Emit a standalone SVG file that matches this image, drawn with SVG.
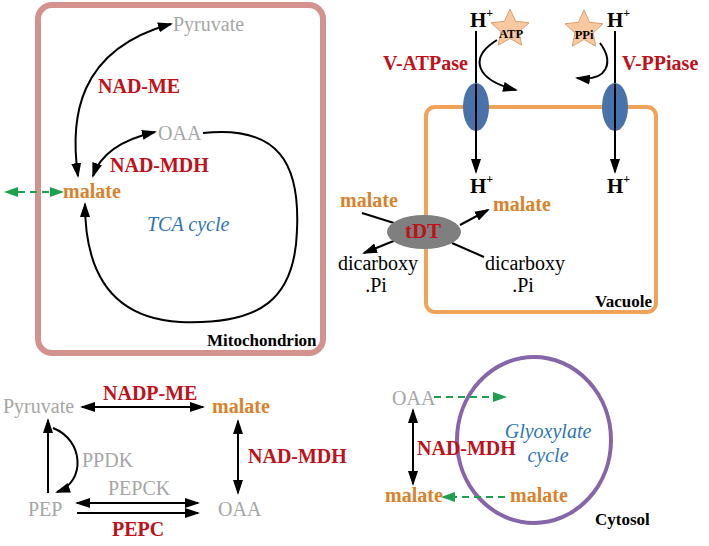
<svg xmlns="http://www.w3.org/2000/svg" width="709" height="546" viewBox="0 0 709 546" font-family="'Liberation Serif', 'Times New Roman', serif">
<defs>
<marker id="ah" markerUnits="userSpaceOnUse" markerWidth="15" markerHeight="12" refX="13" refY="5" orient="auto-start-reverse" viewBox="0 0 15 10"><path d="M0,0 L15,5 L0,10 z" fill="#000"/></marker>
<marker id="ag" markerUnits="userSpaceOnUse" markerWidth="14" markerHeight="12" refX="12" refY="5" orient="auto-start-reverse" viewBox="0 0 14 10"><path d="M0,0 L14,5 L0,10 z" fill="#1ea04e"/></marker>
<path id="star" d="M0,-20 L5.6,-7.7 L19,-6.2 L9,2.9 L11.8,16.2 L0,9.5 L-11.8,16.2 L-9,2.9 L-19,-6.2 L-5.6,-7.7 Z"/>
</defs>
<style>
text{font-size:20px}
.g{fill:#a6a6a6}
.r{fill:#c0101a;font-weight:bold}
.o{fill:#d9822b;font-weight:bold}
.b{fill:#2e75b6;font-style:italic}
.k{fill:#000;font-weight:bold}
.lbl{font-size:17px;font-weight:bold;fill:#000}
.n{fill:#000}
.ar{fill:none;stroke:#000;stroke-width:2}
.gr{fill:none;stroke:#1ea04e;stroke-width:2;stroke-dasharray:7 5}
</style>
<rect width="709" height="546" fill="#fff"/>

<g id="mitochondrion">
<rect x="38" y="5" width="285" height="348" rx="14" fill="none" stroke="#d4928f" stroke-width="6"/>
<text class="lbl" x="207" y="346">Mitochondrion</text>
</g>
<g id="vacuole">
<rect x="426" y="107" width="230" height="205" rx="9" fill="none" stroke="#f0a258" stroke-width="4"/>
<text class="lbl" x="595" y="307">Vacuole</text>
</g>
<g id="glyoxysome">
<ellipse cx="534" cy="440" rx="77" ry="83" fill="none" stroke="#8566a8" stroke-width="4"/>
<text class="b" x="548" y="438" text-anchor="middle">Glyoxylate</text>
<text class="b" x="548" y="462" text-anchor="middle">cycle</text>
</g>

<g id="connectors">
<path class="ar" d="M78,176 C70,120 76,50 171,24" marker-start="url(#ah)" marker-end="url(#ah)"/>
<path class="ar" d="M93,176 C100,155 120,140 155,132" marker-start="url(#ah)" marker-end="url(#ah)"/>
<path class="ar" d="M203,133 C280,125 300,165 297,230 C295,300 260,325 180,322 C110,318 85,270 85,204" marker-end="url(#ah)"/>
<path class="gr" d="M6,192 L62,192" marker-start="url(#ag)" marker-end="url(#ag)"/>
<path class="ar" d="M476,31 L476,172" marker-end="url(#ah)"/>
<path class="ar" d="M615,31 L615,172" marker-end="url(#ah)"/>
<path class="ar" d="M497,40 C468,58 476,80 516,90" marker-end="url(#ah)"/>
<path class="ar" d="M600,43 C614,62 608,82 577,78" marker-end="url(#ah)"/>
<path class="ar" d="M362,213 L394,223"/>
<path class="ar" d="M460,225 L488,210" marker-end="url(#ah)"/>
<path class="ar" d="M396,240 L364,253" marker-end="url(#ah)"/>
<path class="ar" d="M452,243 L484,257"/>
<path class="ar" d="M82,407 L203,407" marker-start="url(#ah)" marker-end="url(#ah)"/>
<path class="ar" d="M238,421 L238,493" marker-start="url(#ah)" marker-end="url(#ah)"/>
<path class="ar" d="M48,493 L48,420" marker-end="url(#ah)"/>
<path class="ar" d="M53,428 C84,440 86,482 57,492" marker-end="url(#ah)"/>
<path class="ar" d="M77,503 L198,503" marker-start="url(#ah)" marker-end="url(#ah)"/>
<path class="ar" d="M77,513 L198,513" marker-end="url(#ah)"/>
<path class="ar" d="M413,410 L413,484" marker-start="url(#ah)" marker-end="url(#ah)"/>
<path class="gr" d="M434,397 L505,397" marker-end="url(#ag)"/>
<path class="gr" d="M505,497 L443,497" marker-end="url(#ag)"/>
</g>

<g id="pumps">
<ellipse cx="476" cy="107" rx="13" ry="24" fill="#4a72aa"/>
<ellipse cx="615" cy="107" rx="13" ry="24" fill="#4a72aa"/>
<line x1="476" y1="84" x2="476" y2="131" stroke="#000" stroke-width="2"/>
<line x1="615" y1="84" x2="615" y2="131" stroke="#000" stroke-width="2"/>
<use href="#star" x="510" y="29" fill="#f8c9a0" stroke="#d9a070" stroke-width="1"/>
<use href="#star" x="584" y="30" fill="#f8c9a0" stroke="#d9a070" stroke-width="1"/>
<text class="k" x="511" y="38" text-anchor="middle" style="font-size:12.5px">ATP</text>
<text class="k" x="584" y="39" text-anchor="middle" style="font-size:12.5px">PPi</text>
<text class="k" x="470" y="27" style="font-size:21px">H<tspan dy="-10" style="font-size:12px">+</tspan></text>
<text class="k" x="607" y="27" style="font-size:21px">H<tspan dy="-10" style="font-size:12px">+</tspan></text>
<text class="k" x="470" y="193" style="font-size:21px">H<tspan dy="-10" style="font-size:12px">+</tspan></text>
<text class="k" x="607" y="193" style="font-size:21px">H<tspan dy="-10" style="font-size:12px">+</tspan></text>
<text class="r" x="383" y="70">V-ATPase</text>
<text class="r" x="622" y="70">V-PPiase</text>
</g>

<g id="tDT">
<ellipse cx="424" cy="232" rx="37" ry="17" fill="#7f7f7f"/>
<text class="r" x="423" y="238" text-anchor="middle" style="font-size:21px">tDT</text>
<text class="o" x="340" y="207">malate</text>
<text class="o" x="493" y="211">malate</text>
<text class="n" x="378" y="270" text-anchor="middle">dicarboxy</text>
<text class="n" x="376" y="292" text-anchor="middle">.Pi</text>
<text class="n" x="525" y="270" text-anchor="middle">dicarboxy</text>
<text class="n" x="523" y="292" text-anchor="middle">.Pi</text>
</g>

<g id="mito-labels">
<text class="g" x="173" y="31">Pyruvate</text>
<text class="r" x="98" y="93">NAD-ME</text>
<text class="g" x="158" y="140">OAA</text>
<text class="r" x="110" y="172">NAD-MDH</text>
<text class="o" x="63" y="198">malate</text>
<text class="b" x="147" y="231">TCA cycle</text>
</g>

<g id="cytosol-left">
<text class="g" x="3" y="413">Pyruvate</text>
<text class="r" x="103" y="400">NADP-ME</text>
<text class="o" x="212" y="413">malate</text>
<text class="r" x="248" y="463">NAD-MDH</text>
<text class="g" x="218" y="516">OAA</text>
<text class="g" x="28" y="516">PEP</text>
<text class="g" x="82" y="467">PPDK</text>
<text class="g" x="108" y="495">PEPCK</text>
<text class="r" x="112" y="536">PEPC</text>
</g>

<g id="cytosol-right">
<text class="g" x="392" y="405">OAA</text>
<text class="r" x="417" y="455">NAD-MDH</text>
<text class="o" x="385" y="502">malate</text>
<text class="o" x="510" y="502">malate</text>
<text class="lbl" x="595" y="525">Cytosol</text>
</g>
</svg>
